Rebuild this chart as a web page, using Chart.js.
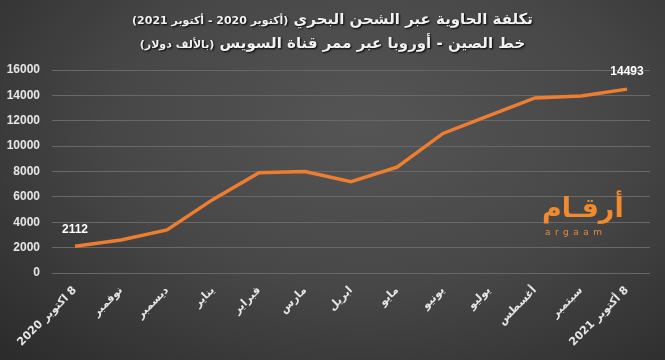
<!DOCTYPE html>
<html>
<head>
<meta charset="utf-8">
<script src="https://cdn.jsdelivr.net/npm/chart.js@4"></script>
<style>
  html, body { margin: 0; padding: 0; }
  body {
    width: 665px; height: 360px; overflow: hidden; position: relative;
    background: radial-gradient(ellipse 75% 90% at 55% 35%, #555555 0%, #474747 50%, #2c2c2c 100%);
    font-family: "DejaVu Sans", sans-serif;
  }
  #wrap { position: absolute; left: 0; top: 0; width: 665px; height: 360px; }
  .title {
    position: absolute; left: 0; width: 665px; text-align: center;
    color: #f2f2f2; font-weight: bold; direction: rtl;
    text-shadow: 1px 1px 2px #000;
  }
  .t1 { top: 10px; font-size: 15px; }
  .t2 { top: 34px; font-size: 15px; }
  .small { font-size: 11px; }
  .logo {
    position: absolute; left: 542px; top: 192px; color: #f08a2c;
    font-weight: bold; font-size: 27px; direction: rtl; line-height: 32px;
  }
  .logo2 {
    position: absolute; left: 545px; top: 227px; color: #e58a3a;
    font-size: 9px; letter-spacing: 4.5px;
  }
</style>
</head>
<body>
<div id="wrap"><canvas id="chart" width="665" height="360" dir="rtl"></canvas></div>
<div class="title t1">تكلفة الحاوية عبر الشحن البحري <span class="small">(أكتوبر 2020 - أكتوبر 2021)</span></div>
<div class="title t2">خط الصين - أوروبا عبر ممر قناة السويس <span class="small">(بالألف دولار)</span></div>
<div class="logo">أرقـام</div>
<div class="logo2">argaam</div>
<script>
const months = ["8 اكتوبر 2020", "نوفمبر", "ديسمبر", "يناير", "فبراير", "مارس", "ابريل",
  "مايو", "يونيو", "يوليو", "أغسطس", "سبتمبر", "8 أكتوبر 2021"];
const cost = [2112, 2600, 3400, 5800, 7900, 8000, 7200, 8350, 11000, 12400, 13800, 13950, 14493];
const labelled = [0, 12];

// value labels on first and last point
const pointLabels = {
  id: "pointLabels",
  afterDatasetsDraw(chart) {
    const ctx = chart.ctx;
    const meta = chart.getDatasetMeta(0);
    ctx.save();
    ctx.font = "bold 12px 'Liberation Sans'";
    ctx.fillStyle = "#ffffff";
    ctx.textAlign = "center";
    ctx.textBaseline = "bottom";
    labelled.forEach(i => {
      const p = meta.data[i];
      ctx.fillText(cost[i].toString(), p.x, p.y - 11);
    });
    ctx.restore();
  }
};

new Chart(document.getElementById("chart"), {
  type: "line",
  data: {
    labels: months,
    datasets: [{
      data: cost,
      borderColor: "#ed7d31",
      borderWidth: 3.5,
      pointRadius: 0,
      tension: 0,
      fill: false
    }]
  },
  options: {
    responsive: false,
    animation: false,
    layout: { padding: { top: 70, right: 15, left: 4, bottom: 2 } },
    plugins: { legend: { display: false }, tooltip: { enabled: false } },
    scales: {
      x: {
        offset: true,
        grid: { display: false },
        border: { display: false },
        ticks: {
          color: "#e6e6e6",
          font: { family: "DejaVu Sans", size: 11, weight: "bold" },
          maxRotation: 45, minRotation: 45,
          autoSkip: false
        },
        afterFit(scale) { scale.height = 85; }
      },
      y: {
        min: 0, max: 16000,
        grid: { color: "#686868", lineWidth: 1, drawTicks: false },
        border: { display: false },
        ticks: {
          stepSize: 2000,
          color: "#e6e6e6",
          padding: 12,
          font: { family: "Liberation Sans", size: 12, weight: "bold" },
          callback: v => String(v)
        },
        afterFit(scale) { scale.width = 48; }
      }
    }
  },
  plugins: [pointLabels]
});
</script>
</body>
</html>
